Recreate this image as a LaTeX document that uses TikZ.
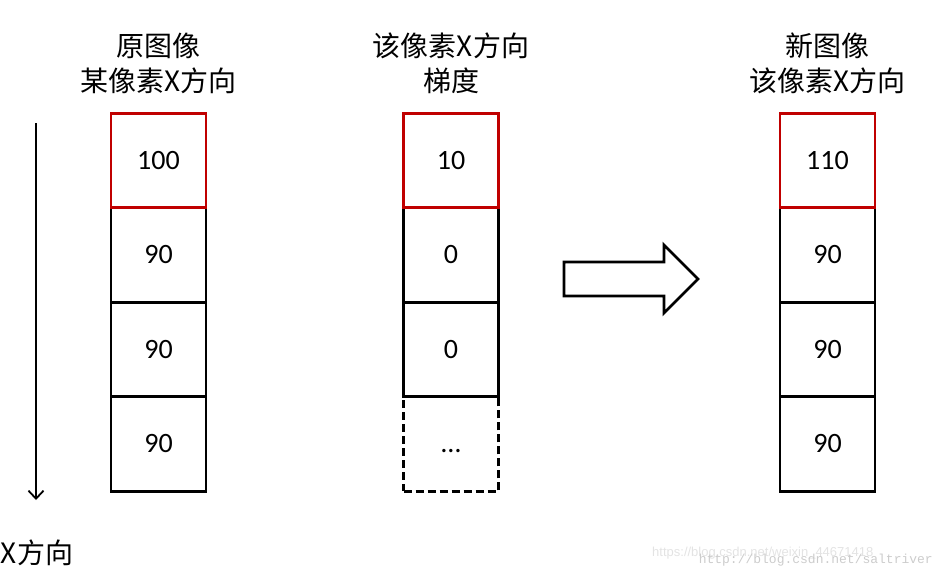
\documentclass[tikz,border=0pt]{standalone}
\usepackage{fontspec}
\setmainfont{Carlito}
\newfontfamily\cjk{Noto Sans CJK SC}
\newfontfamily\wmsans{Liberation Sans}
\newfontfamily\wmmono{Liberation Mono}
\usetikzlibrary{arrows.meta}
\definecolor{boxred}{RGB}{192,0,0}
\begin{document}
\begin{tikzpicture}[x=1pt,y=-1pt,
  cell/.style={draw, line width=2.8pt, minimum width=95pt, minimum height=94.5pt, inner sep=0pt, font=\fontsize{28}{30}\selectfont},
  redcell/.style={cell, draw=boxred},
  dashcell/.style={cell, dash pattern=on 8pt off 4pt},
  title/.style={align=center, font=\cjk\fontsize{28}{35}\selectfont, inner sep=0pt},
  wm/.style={inner sep=0pt}]
\useasboundingbox (0,0) rectangle (933,575);
% left column
\node[cell] (a2) at (158.5,255) {90};
\node[cell] (a3) at (158.5,349.5) {90};
\node[cell] (a4) at (158.5,444) {90};
\node[redcell] (a1) at (158.5,160.5) {100};
% middle column
\node[cell] (b2) at (451,255) {0};
\node[cell] (b3) at (451,349.5) {0};
\node[dashcell] (b4) at (451,444) {\smash{\raisebox{-8pt}{\ldots}}};
\node[redcell] (b1) at (451,160.5) {10};
% right column
\node[cell] (c2) at (827.5,255) {90};
\node[cell] (c3) at (827.5,349.5) {90};
\node[cell] (c4) at (827.5,444) {90};
\node[redcell] (c1) at (827.5,160.5) {110};
% titles
\node[title] (ta) at (158.5,63) {原图像\\某像素X方向};
\node[title] (tb) at (451,63) {该像素X方向\\梯度};
\node[title] (tc) at (827.5,63) {新图像\\该像素X方向};
% left direction arrow
\coordinate (xa) at (36,123);
\coordinate (xb) at (36,500);
\draw[line width=1.8pt, -{Straight Barb[length=8pt,width=15pt,line width=1.8pt]}] (xa) -- (xb);
\node[title] (xl) at (37,553) {X方向};
% block arrow
\coordinate (p0) at (564,262);
\draw[line width=2.8pt, line join=miter] (p0) -- (664,262) -- (664,245) -- (698,279) -- (664,313) -- (664,296) -- (564,296) -- cycle;
% watermark
\node[wm, anchor=base west, text=gray!22, font=\wmsans\fontsize{13}{13}\selectfont] (w1) at (652,556) {https://blog.csdn.net/weixin\_44671418};
\node[wm, anchor=base east, text=gray!40, font=\wmmono\fontsize{13}{13}\selectfont] (w2) at (933,563) {http://blog.csdn.net/saltriver};
\end{tikzpicture}
\end{document}
